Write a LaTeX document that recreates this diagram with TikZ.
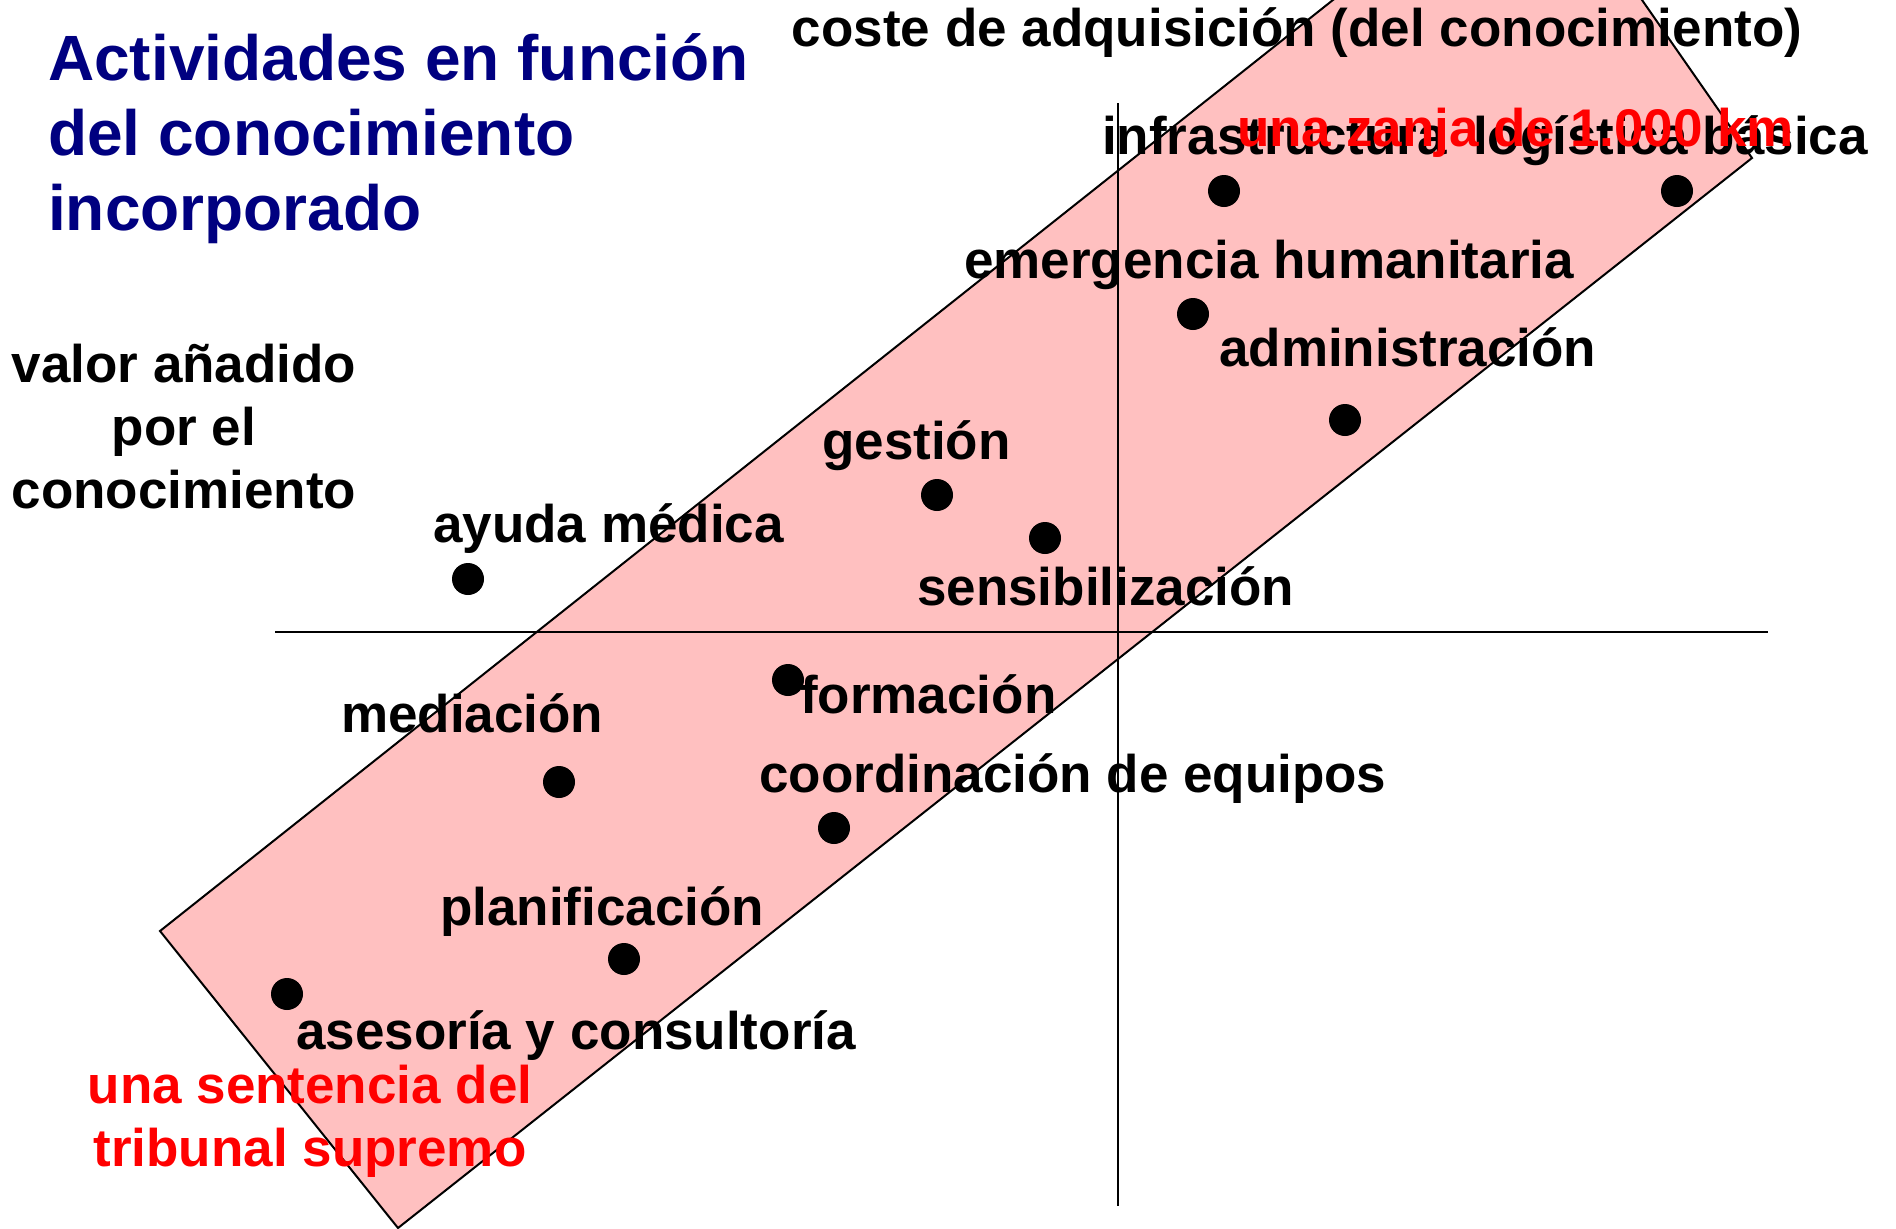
\documentclass[tikz,border=0pt]{standalone}
\usepackage{fontspec}
\setmainfont{Liberation Sans}
\definecolor{bandPink}{RGB}{255,192,192}
\definecolor{titleBlue}{RGB}{0,0,128}
\begin{document}
\begin{tikzpicture}[
    x=1pt, y=-1pt,
    labelFont/.style={font=\fontsize{53}{63}\selectfont\bfseries, inner sep=0pt},
    redLabel/.style={labelFont, text=red},
    dotNode/.style={circle, fill=black, minimum size=32pt, inner sep=0pt},
    bandStyle/.style={fill=bandPink, draw=black, line width=2pt, line join=miter},
    axisLine/.style={line width=2.5pt}
    ]
    \useasboundingbox (0,0) rectangle (1896,1229);
    \clip (0,0) rectangle (1896,1229);

    % the tilted band
    \coordinate (bandLeft) at (160,931);
    \coordinate (bandBottom) at (398,1228);
    \coordinate (bandRight) at (1752,158);
    \coordinate (bandTop) at (1532,-158);
    \draw[bandStyle] (bandLeft) -- (bandBottom) -- (bandRight) -- (bandTop) -- cycle;

    % axes
    \coordinate (xStart) at (275,632);
    \coordinate (xEnd) at (1768,632);
    \coordinate (yStart) at (1118,103);
    \coordinate (yEnd) at (1118,1206);
    \draw[axisLine] (xStart) -- (xEnd);
    \draw[axisLine] (yStart) -- (yEnd);

    % titles
    \node[anchor=base west, inner sep=0pt, align=left, text=titleBlue,
        font=\fontsize{64}{75}\selectfont\bfseries] (title) at (48,230)
        {Actividades en función\\del conocimiento\\incorporado};
    \node[labelFont, anchor=base] (xLabel) at (1297,46) {coste de adquisición (del conocimiento)};
    \node[labelFont, anchor=base, align=center] (yLabel) at (184,508) {valor añadido\\por el\\conocimiento};

    % activities
    \node[dotNode] (infra) at (1224,191) {};
    \node[dotNode] (logistica) at (1677,191) {};
    \node[dotNode] (emergencia) at (1193,314) {};
    \node[dotNode] (admin) at (1345,420) {};
    \node[dotNode] (gestion) at (937,495) {};
    \node[dotNode] (sensib) at (1045,538) {};
    \node[dotNode] (ayuda) at (468,579) {};
    \node[dotNode] (formacion) at (788,680) {};
    \node[dotNode] (mediacion) at (559,782) {};
    \node[dotNode] (coord) at (834,828) {};
    \node[dotNode] (planif) at (624,959) {};
    \node[dotNode] (asesoria) at (287,994) {};

    \node[labelFont, anchor=base west] (infraText) at (1102,154) {infrastructura};
    \node[labelFont, anchor=base east] (logisticaText) at (1868,154) {logística básica};
    \node[labelFont, anchor=base west] (emergenciaText) at (964,278) {emergencia humanitaria};
    \node[labelFont, anchor=base west] (adminText) at (1219,366) {administración};
    \node[labelFont, anchor=base west] (gestionText) at (822,459) {gestión};
    \node[labelFont, anchor=base west] (ayudaText) at (433,542) {ayuda médica};
    \node[labelFont, anchor=base west] (sensibText) at (917,605) {sensibilización};
    \node[labelFont, anchor=base west] (formacionText) at (800,713) {formación};
    \node[labelFont, anchor=base west] (mediacionText) at (341,732) {mediación};
    \node[labelFont, anchor=base west] (coordText) at (759,792) {coordinación de equipos};
    \node[labelFont, anchor=base west] (planifText) at (440,925) {planificación};
    \node[labelFont, anchor=base west] (asesoriaText) at (296,1049) {asesoría y consultoría};

    % examples
    \node[redLabel, anchor=base west] (zanja) at (1237,146) {una zanja de 1.000 km};
    \node[redLabel, anchor=base, align=center] (sentencia) at (310,1166) {una sentencia del\\tribunal supremo};
\end{tikzpicture}
\end{document}
